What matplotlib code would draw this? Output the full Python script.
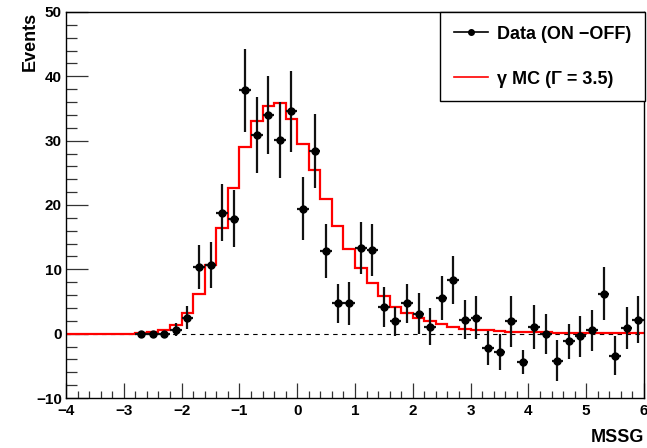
import matplotlib
matplotlib.use("Agg")
import matplotlib.pyplot as plt
from matplotlib.lines import Line2D
from matplotlib.ticker import MultipleLocator
import numpy as np


# Histogram binning (MSSG axis), 50 bins of width 0.2
BIN_EDGES = np.linspace(-4.0, 6.0, 51)

# Gamma MC expectation per bin (Gamma = 3.5)
MC_VALUES = [
    0.0, 0.0, 0.0, 0.0, 0.0, 0.0,
    0.05, 0.2, 0.5, 1.3, 3.2, 6.2, 10.7, 16.4, 22.7, 29.0,
    33.0, 35.4, 35.8, 33.4, 29.5, 25.5, 20.9, 16.8, 13.2, 10.2,
    7.8, 5.8, 4.2, 3.2, 2.4, 1.9, 1.5, 1.1, 0.8, 0.6,
    0.5, 0.4, 0.3, 0.3, 0.25, 0.2, 0.15, 0.1, 0.1, 0.1,
    0.08, 0.07, 0.06, 0.05,
]

# Data (ON - OFF): bin centres, counts and errors
DATA_X = [
    -2.7, -2.5, -2.3, -2.1, -1.9, -1.7, -1.5, -1.3, -1.1, -0.9,
    -0.7, -0.5, -0.3, -0.1, 0.1, 0.3, 0.5, 0.7, 0.9, 1.1,
    1.3, 1.5, 1.7, 1.9, 2.1, 2.3, 2.5, 2.7, 2.9, 3.1,
    3.3, 3.5, 3.7, 3.9, 4.1, 4.3, 4.5, 4.7, 4.9, 5.1,
    5.3, 5.5, 5.7, 5.9,
]
DATA_Y = [
    0.0, -0.1, -0.1, 0.6, 2.5, 10.4, 10.7, 18.8, 17.9, 37.8,
    30.9, 34.0, 30.1, 34.6, 19.4, 28.4, 12.9, 4.7, 4.7, 13.3,
    13.0, 4.2, 1.9, 4.7, 3.1, 1.1, 5.6, 8.3, 2.2, 2.5,
    -2.2, -2.9, 1.9, -4.4, 1.0, 0.0, -4.2, -1.2, -0.4, 0.5,
    6.2, -3.4, 0.9, 2.2,
]
DATA_ERR = [
    0.3, 0.3, 0.3, 1.0, 1.8, 3.4, 3.6, 4.4, 4.5, 6.5,
    5.9, 6.1, 5.9, 6.3, 4.9, 5.8, 4.2, 3.0, 3.4, 4.1,
    4.0, 3.1, 2.3, 3.0, 3.2, 2.9, 3.4, 3.7, 3.0, 3.3,
    2.6, 2.8, 3.9, 1.8, 3.4, 3.1, 3.2, 2.7, 3.2, 3.2,
    4.1, 3.0, 3.3, 3.7,
]

LEGEND_LABELS = ["Data (ON \u2212OFF)", "\u03b3 MC (\u0393 = 3.5)"]


def main():

    # ROOT-like look: bold Helvetica-ish text
    plt.rcParams["font.family"] = ["Liberation Sans", "DejaVu Sans"]
    plt.rcParams["font.weight"] = "bold"
    plt.rcParams["font.size"] = 11

    W, H = 647, 448
    fig = plt.figure(figsize=(W / 100, H / 100), dpi=100)
    ax = fig.add_axes([66 / W, 1 - 398 / H, (644 - 66) / W, (398 - 12) / H])

    # Zero reference line
    ax.axhline(0, color="black", linestyle=(0, (4, 4)), linewidth=0.8, zorder=1)

    # MC histogram
    ax.stairs(MC_VALUES, BIN_EDGES, color="#ff0000", linewidth=1.6, zorder=2)

    # Data points with errors
    ax.errorbar(DATA_X, DATA_Y, yerr=DATA_ERR, xerr=0.1, fmt="o", color="black",
                ecolor="#111111", markersize=5, elinewidth=1.6, capsize=0, zorder=3)

    # Axes ranges and ticks
    ax.set_xlim(-4, 6)
    ax.set_ylim(-10, 50)
    ax.xaxis.set_major_locator(MultipleLocator(1))
    ax.xaxis.set_minor_locator(MultipleLocator(0.2))
    ax.yaxis.set_major_locator(MultipleLocator(10))
    ax.yaxis.set_minor_locator(MultipleLocator(2))
    ax.tick_params(axis="both", which="both", direction="in", top=False, right=False,
                   color="#333333", width=0.9)
    ax.tick_params(axis="x", which="major", length=11, pad=4)
    ax.tick_params(axis="x", which="minor", length=5)
    ax.tick_params(axis="y", which="major", length=16, pad=3)
    ax.tick_params(axis="y", which="minor", length=8)
    for lab in ax.get_xticklabels() + ax.get_yticklabels():
        lab.set_fontweight("bold")
    for sp in ax.spines.values():
        sp.set_linewidth(1.0)

    # Axis titles in ROOT positions
    fig.text(644 / W, 1 - 437 / H, "MSSG", ha="right", va="center", fontsize=13,
             fontweight="bold")
    fig.text(30 / W, 1 - 12 / H, "Events", ha="center", va="top", rotation=90,
             fontsize=13, fontweight="bold")

    # Legend
    handles = [
        Line2D([], [], color="black", marker="o", markersize=4, linewidth=1.2),
        Line2D([], [], color="#ff0000", linewidth=1.2),
    ]
    leg = ax.legend(handles, LEGEND_LABELS, loc="upper right",
                    bbox_to_anchor=(645 / W, 1 - 12 / H), bbox_transform=fig.transFigure,
                    borderaxespad=0, fancybox=False, framealpha=1, edgecolor="black",
                    prop={"size": 13, "weight": "bold"}, borderpad=0.75,
                    labelspacing=1.55, handlelength=1.9, handletextpad=0.5,
                    numpoints=1)
    leg.get_frame().set_linewidth(1.0)
    leg.set_zorder(5)

    fig.savefig("out.png", dpi=100)


if __name__ == "__main__":
    main()
